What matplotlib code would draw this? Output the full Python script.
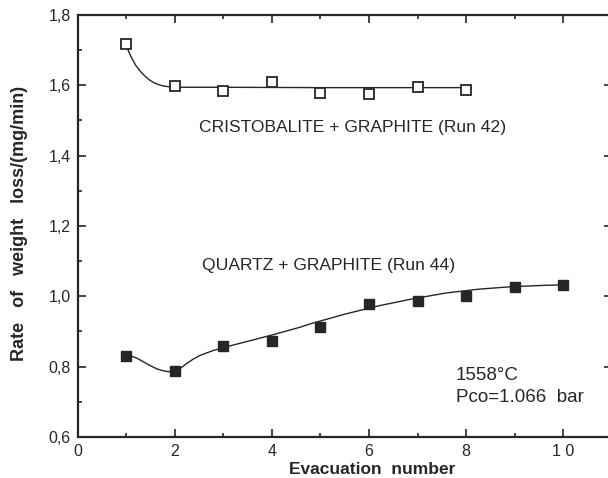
import matplotlib.pyplot as plt
from matplotlib.ticker import MultipleLocator, FuncFormatter

plt.rcParams['font.family'] = ['Liberation Sans', 'DejaVu Sans']

# measured points
evac_cristo = [1, 2, 3, 4, 5, 6, 7, 8]
rate_cristo = [1.718, 1.597, 1.582, 1.610, 1.578, 1.574, 1.594, 1.585]
evac_quartz = [1, 2, 3, 4, 5, 6, 7, 8, 9, 10]
rate_quartz = [0.830, 0.788, 0.859, 0.873, 0.913, 0.978, 0.987, 1.001, 1.027, 1.032]

# hand-drawn fit curves
curve_cristo_x = [1.0, 1.04, 1.10, 1.20, 1.30, 1.40, 1.50, 1.60, 1.73, 1.85, 1.96, 2.2, 3.0, 5.0, 8.0]
curve_cristo_y = [1.718, 1.700, 1.681, 1.656, 1.638, 1.624, 1.613, 1.605, 1.599, 1.596, 1.595,
                  1.594, 1.594, 1.593, 1.593]
curve_quartz_x = [1.0, 1.06, 1.14, 1.22, 1.35, 1.49, 1.64, 1.79, 1.92, 2.02, 2.12, 2.25, 2.38,
                  2.51, 2.78, 3.03, 3.54, 4.01, 4.56, 4.83, 5.53, 6.21, 6.88, 7.58, 8.26,
                  8.93, 9.63, 9.96]
curve_quartz_y = [0.830, 0.830, 0.828, 0.824, 0.814, 0.803, 0.793, 0.787, 0.785, 0.787, 0.795,
                  0.809, 0.821, 0.831, 0.845, 0.855, 0.873, 0.890, 0.911, 0.923, 0.950,
                  0.973, 0.992, 1.009, 1.020, 1.027, 1.031, 1.032]

ink = '#262626'

fig = plt.figure(figsize=(6.08, 4.78), dpi=100)
ax = fig.add_axes([0.1275, 0.086, 0.879, 0.883])

ax.plot(curve_cristo_x, curve_cristo_y, color=ink, lw=1.0)
ax.plot(curve_quartz_x, curve_quartz_y, color=ink, lw=1.0)
ax.plot(evac_cristo, rate_cristo, 's', ms=6.5, mfc='white', mec=ink, mew=1.3)
ax.plot(evac_quartz, rate_quartz, 's', ms=7, mfc=ink, mec=ink)

ax.set_xlim(0, 11)
ax.set_ylim(0.6, 1.8)
ax.xaxis.set_major_locator(MultipleLocator(2))
ax.xaxis.set_minor_locator(MultipleLocator(1))
ax.yaxis.set_major_locator(MultipleLocator(0.2))
ax.yaxis.set_minor_locator(MultipleLocator(0.1))
ax.yaxis.set_major_formatter(FuncFormatter(lambda v, p: f"{v:.1f}".replace('.', ',')))
ax.xaxis.set_major_formatter(FuncFormatter(lambda v, p: '1 0' if int(round(v)) == 10 else f"{int(round(v))}"))

ax.tick_params(which='both', direction='in', top=True, right=True, color=ink,
               labelsize=11.5, labelcolor=ink, width=1.2)
ax.tick_params(which='major', length=6, pad=5)
ax.tick_params(which='minor', length=3)
for s in ax.spines.values():
    s.set_linewidth(1.6)
    s.set_color(ink)

ax.set_xlabel('Evacuation  number', fontsize=12.5, fontweight='bold', color=ink)
ax.xaxis.set_label_coords(0.551, -0.059)
ax.set_ylabel('Rate   of   weight   loss/(mg/min)', fontsize=13, fontweight='bold', color=ink)
ax.yaxis.set_label_coords(-0.093, 0.505)

ax.text(2.51, 1.479, 'CRISTOBALITE + GRAPHITE (Run 42)', fontsize=12.6, color=ink, va='center')
ax.text(2.57, 1.086, 'QUARTZ + GRAPHITE (Run 44)', fontsize=12.6, color=ink, va='center')
ax.text(7.78, 0.774, '1558°C', fontsize=13.5, color=ink, va='center')
ax.text(7.78, 0.711, 'Pco=1.066  bar', fontsize=13.5, color=ink, va='center')

fig.savefig('out.png', dpi=100)
